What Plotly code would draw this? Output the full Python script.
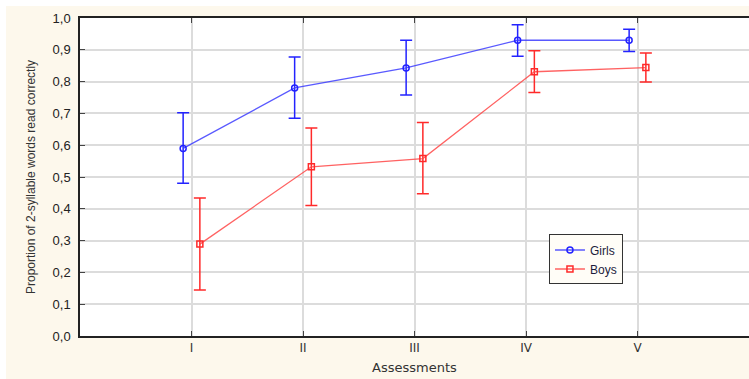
import plotly.graph_objects as go

categories = ["I", "II", "III", "IV", "V"]
girls = [0.590, 0.780, 0.843, 0.930, 0.930]
girls_hi = [0.702, 0.877, 0.930, 0.979, 0.965]
girls_lo = [0.480, 0.685, 0.758, 0.880, 0.895]
boys = [0.289, 0.532, 0.558, 0.831, 0.844]
boys_hi = [0.434, 0.654, 0.671, 0.897, 0.890]
boys_lo = [0.145, 0.410, 0.447, 0.766, 0.799]
y_ticks = [0.0, 0.1, 0.2, 0.3, 0.4, 0.5, 0.6, 0.7, 0.8, 0.9, 1.0]

OFFSET = 0.075
pos = list(range(1, len(categories) + 1))

fig = go.Figure()

def add_series(name, vals, hi, lo, sign, line_col, bar_col, symbol):
    fig.add_trace(go.Scatter(
        x=[p + sign * OFFSET for p in pos], y=vals, name=name,
        mode="lines+markers",
        line=dict(color=line_col, width=1.3),
        marker=dict(symbol=symbol, size=6, color=bar_col, line=dict(width=1.5, color=bar_col)),
        error_y=dict(type="data", symmetric=False,
                     array=[h - v for h, v in zip(hi, vals)],
                     arrayminus=[v - l for l, v in zip(lo, vals)],
                     color=bar_col, thickness=1.5, width=6),
    ))

add_series("Girls", girls, girls_hi, girls_lo, -1, "rgba(60,60,255,0.85)", "#2323ff", "circle-open")
add_series("Boys", boys, boys_hi, boys_lo, 1, "rgba(255,70,70,0.85)", "#ff2a2a", "square-open")

PH, PW = 318.0, 669.0
fig.update_layout(
    width=749, height=379,
    margin=dict(l=80, r=0, t=18, b=43),
    paper_bgcolor="#fdf8ec", plot_bgcolor="white",
    separators=", ",
    showlegend=True,
    legend=dict(x=0.701, y=0.2406, xanchor="left", yanchor="middle",
                bgcolor="#fffdf7", bordercolor="#333333", borderwidth=1,
                font=dict(family="Liberation Sans", size=12, color="#1c1c3c"),
                tracegroupgap=0, itemwidth=30),
    shapes=[
        dict(type="rect", xref="paper", yref="paper", x0=-80 / PW, x1=1.01,
             y0=1 + 12 / PH, y1=1 + 19 / PH, fillcolor="white", line_width=0, layer="below"),
        dict(type="rect", xref="paper", yref="paper", x0=-81 / PW, x1=-74 / PW,
             y0=-44 / PH, y1=1 + 19 / PH, fillcolor="white", line_width=0, layer="below"),
    ],
)
fig.update_xaxes(
    range=[0, 6], tickvals=pos, ticktext=categories,
    showgrid=True, gridcolor="#dcdcdc", gridwidth=1.5,
    showline=True, linecolor="#222222", linewidth=1.5, mirror="allticks",
    ticks="inside", ticklen=5, tickcolor="#444444",
    tickfont=dict(family="DejaVu Sans", size=12, color="#333333"),
    title=dict(text="Assessments", font=dict(family="DejaVu Sans", size=13, color="#333333"), standoff=9),
    zeroline=False,
)
fig.update_yaxes(
    range=[0, 1], tickvals=y_ticks, tickformat=".1f",
    showgrid=True, gridcolor="#dcdcdc", gridwidth=1.5,
    showline=True, linecolor="#222222", linewidth=1.5,
    ticks="inside", ticklen=5, tickcolor="#444444", ticklabelstandoff=5,
    tickfont=dict(family="Liberation Sans", size=13, color="#222222"),
    title=dict(text="Proportion of 2-syllable words read correctly",
               font=dict(family="Liberation Sans Narrow, Liberation Sans", size=12, color="#333333"), standoff=14),
    zeroline=False,
)

fig.write_html("out.html")
